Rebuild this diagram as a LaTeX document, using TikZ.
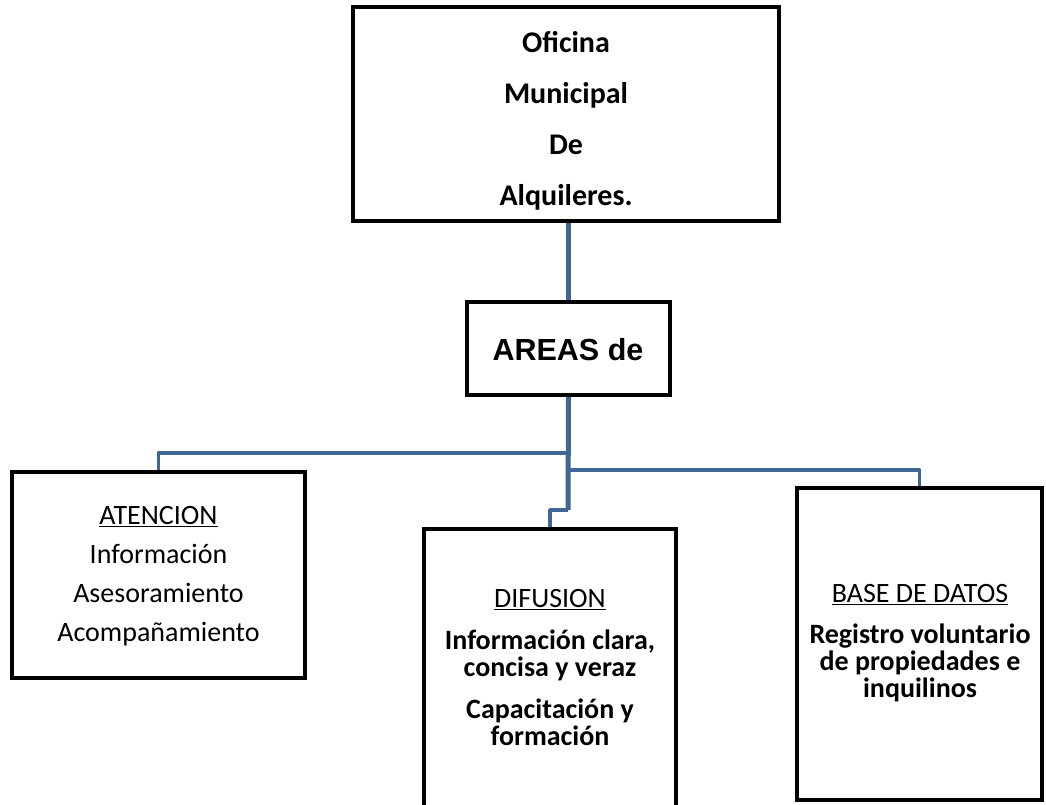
\documentclass[tikz,border=0pt]{standalone}
\usepackage{fontspec}
\setmainfont{Carlito}
\newfontfamily\arialfont{Liberation Sans}
\definecolor{conblue}{RGB}{64,102,152}
\begin{document}
\begin{tikzpicture}[x=1pt,y=1pt,
  box/.style={draw=black,line width=4pt,fill=white,inner sep=0pt},
  txt/.style={align=center,inner sep=0pt,font=\fontsize{28}{27}\selectfont},
  conn/.style={draw=conblue,line width=3.5pt},
  connthick/.style={draw=conblue,line width=5pt}]
\useasboundingbox (0,0) rectangle (1046,-804);
\fill[white] (0,0) rectangle (1046,-804);
% boxes
\node[box,minimum width=426pt,minimum height=214pt] (top) at (566,-114) {};
\node[box,minimum width=203pt,minimum height=93pt] (areas) at (568.5,-348.5) {};
\node[box,minimum width=293pt,minimum height=206pt] (aten) at (158.5,-575) {};
\node[box,minimum width=252pt,minimum height=300pt] (difu) at (550,-679) {};
\node[box,minimum width=245pt,minimum height=312pt] (base) at (919.5,-644) {};
% texts
\node[txt,font=\fontsize{30}{51}\selectfont\bfseries] (toptext) at (566,-121)
  {Oficina\\Municipal\\De\\Alquileres.};
\node[txt,font=\fontsize{30.5}{36}\selectfont\arialfont\bfseries] (areastext) at (568,-350) {AREAS de};
\node[txt,font=\fontsize{28}{39}\selectfont] (atentext) at (158.5,-576)
  {\underline{ATENCION}\\Información\\Asesoramiento\\Acompañamiento};
\node[txt] (difutext) at (550,-668)
  {\underline{DIFUSION}\\[15pt]\bfseries Información clara,\\\bfseries concisa y veraz\\[15pt]\bfseries Capacitación y\\\bfseries formación};
\node[txt] (basetext) at (920,-643)
  {\underline{BASE DE DATOS}\\[14pt]\bfseries Registro voluntario\\\bfseries de propiedades e\\\bfseries inquilinos};
% junctions
\coordinate (jl) at (568,-453);
\coordinate (jr) at (568,-470);
\coordinate (jd) at (568,-510);
% connectors
\draw[connthick] (areas.north) -- (areas.north |- top.south);
\draw[connthick] (areas.south) -- (jd);
\draw[conn,line join=round] (jd) -- (jd -| difu.north) -- (difu.north);
\draw[conn,line join=round] (jl) -- (jl -| aten.north) -- (aten.north);
\draw[conn,line join=round] (jr) -- (jr -| base.north) -- (base.north);
\end{tikzpicture}
\end{document}
